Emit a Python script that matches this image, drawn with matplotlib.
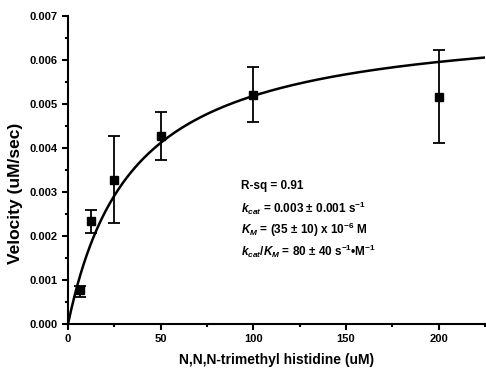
import numpy as np
import matplotlib
matplotlib.use("Agg")
import matplotlib.pyplot as plt
from matplotlib.ticker import MultipleLocator, FormatStrFormatter

plt.rcParams['font.family'] = ['Liberation Sans', 'DejaVu Sans']
plt.rcParams['font.weight'] = 'bold'
plt.rcParams['mathtext.fontset'] = 'custom'
plt.rcParams['mathtext.rm'] = 'Liberation Sans:bold'
plt.rcParams['mathtext.it'] = 'Liberation Sans:italic:bold'
plt.rcParams['mathtext.bf'] = 'Liberation Sans:bold'

# Substrate concentration (uM) and measured velocities (uM/sec)
substrate = [6.25, 12.5, 25, 50, 100, 200]
velocity = [0.00076, 0.00234, 0.00328, 0.00428, 0.00521, 0.00516]
err_low = [0.00014, 0.00027, 0.00098, 0.00055, 0.00063, 0.00104]
err_high = [0.00011, 0.00026, 0.00099, 0.00055, 0.00063, 0.00106]

# Michaelis-Menten fit parameters
vmax = 0.00700
km = 35.0

stats_lines = [
    "R-sq = 0.91",
    r"$k_{cat}$ = 0.003 ± 0.001 s$^{-1}$",
    r"$K_M$ = (35 ± 10) x 10$^{-6}$ M",
    r"$k_{cat}$/$K_M$ = 80 ± 40 s$^{-1}$•M$^{-1}$",
]

fig = plt.figure(figsize=(4.86, 3.74), dpi=100)
ax = fig.add_axes([0.140, 0.134, 0.858, 0.823])

xs = np.linspace(0, 225, 400)
ax.plot(xs, vmax * xs / (km + xs), color='black', lw=1.8, zorder=2)

ax.errorbar(substrate, velocity, yerr=[err_low, err_high], fmt='s', color='black',
            ms=5.5, ecolor='black', elinewidth=1.3, capsize=4, capthick=1.3, zorder=3)

ax.set_xlim(0, 225)
ax.set_ylim(0, 0.007)
ax.xaxis.set_major_locator(MultipleLocator(50))
ax.xaxis.set_minor_locator(MultipleLocator(25))
ax.yaxis.set_major_locator(MultipleLocator(0.001))
ax.yaxis.set_minor_locator(MultipleLocator(0.0005))
ax.yaxis.set_major_formatter(FormatStrFormatter('%.3f'))

for s in ['top', 'right']:
    ax.spines[s].set_visible(False)
for s in ['left', 'bottom']:
    ax.spines[s].set_linewidth(1.5)

ax.tick_params(which='major', direction='out', length=4, width=1.5, labelsize=8)
ax.tick_params(which='minor', direction='out', length=2.5, width=1.5)
for lbl in ax.get_xticklabels() + ax.get_yticklabels():
    lbl.set_fontweight('bold')

ax.set_xlabel("N,N,N-trimethyl histidine (uM)", fontsize=10, fontweight='bold', labelpad=6)
ax.set_ylabel("Velocity (uM/sec)", fontsize=12.5, fontweight='bold')
ax.yaxis.set_label_coords(-0.108, 0.425)

y0 = 186.5
for i, line in enumerate(stats_lines):
    fig.text(241 / 486, 1 - (y0 + 21.6 * i) / 374, line, fontsize=8.5,
             fontweight='bold', va='center', ha='left')

fig.savefig("out.png", dpi=100)
